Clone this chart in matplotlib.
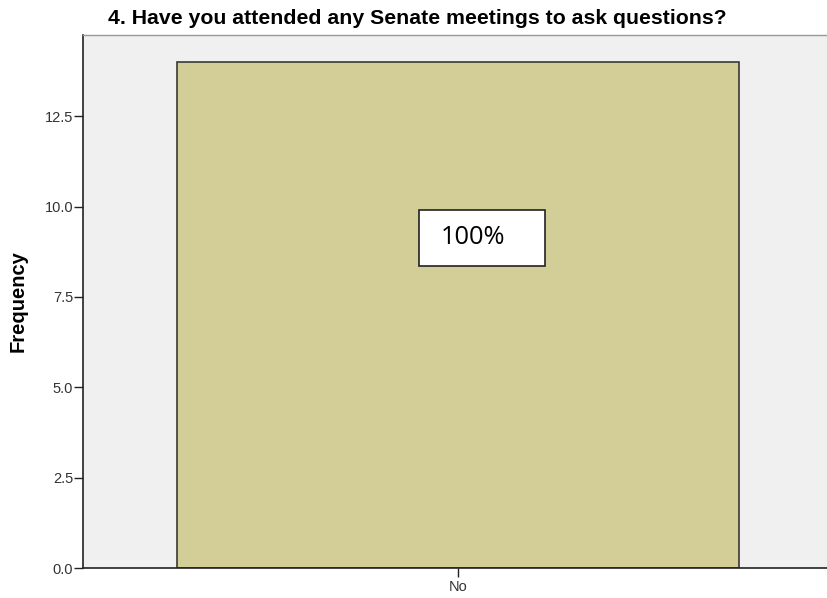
import matplotlib.pyplot as plt
from matplotlib.ticker import MultipleLocator

# data
categories = ["No"]
counts = [14]
pct_labels = ["100%"]

plt.rcParams['font.family'] = ['Liberation Sans', 'DejaVu Sans']

fig = plt.figure(figsize=(8.27, 5.98), dpi=100)
ax = fig.add_axes([83/827, 1-568/598, (827-83)/827, (568-35)/598])
ax.set_facecolor('#F0F0F0')

x = range(len(categories))
ax.bar(x, counts, width=1.0, color='#D3CE97', edgecolor='#3A3A32', linewidth=1.2, zorder=2)

ax.set_xlim(-0.667, 0.657)
ax.set_ylim(0, 14.75)
ax.yaxis.set_major_locator(MultipleLocator(2.5))
ax.yaxis.set_major_formatter(plt.FuncFormatter(lambda v, p: f"{v:.1f}"))
ax.set_xticks(list(x))
ax.set_xticklabels(categories)
ax.tick_params(axis='both', labelsize=10.5, length=6.5, width=1, color='#222222',
               labelcolor='#333333', direction='out', pad=0.5)
ax.tick_params(axis='x', length=6.5, width=1, pad=2)

ax.spines['right'].set_visible(False)
ax.spines['top'].set_color('#999999')
ax.spines['top'].set_linewidth(1)
ax.spines['left'].set_color('#222222')
ax.spines['bottom'].set_color('#222222')
ax.spines['left'].set_linewidth(1.2)
ax.spines['bottom'].set_linewidth(1.2)

ax.set_ylabel("Frequency", fontsize=14.5, fontweight='bold', labelpad=12)

fig.text(0.505, 1-18/598, "4. Have you attended any Senate meetings to ask questions?",
         ha='center', va='center', fontsize=15.3, fontweight='bold')

# percentage label box
bx0, bx1 = 419/827, 545/827
by0, by1 = 1-266/598, 1-210/598
box = plt.Rectangle((bx0, by0), bx1-bx0, by1-by0, transform=fig.transFigure,
                    facecolor='white', edgecolor='#222222', linewidth=1.2, zorder=5)
fig.add_artist(box)
fig.text(441/827, (by0+by1)/2, pct_labels[0], ha='left', va='center',
         fontsize=18.3, family=['Open Sans', 'DejaVu Sans'], zorder=6)

fig.savefig("out.png", dpi=100)
